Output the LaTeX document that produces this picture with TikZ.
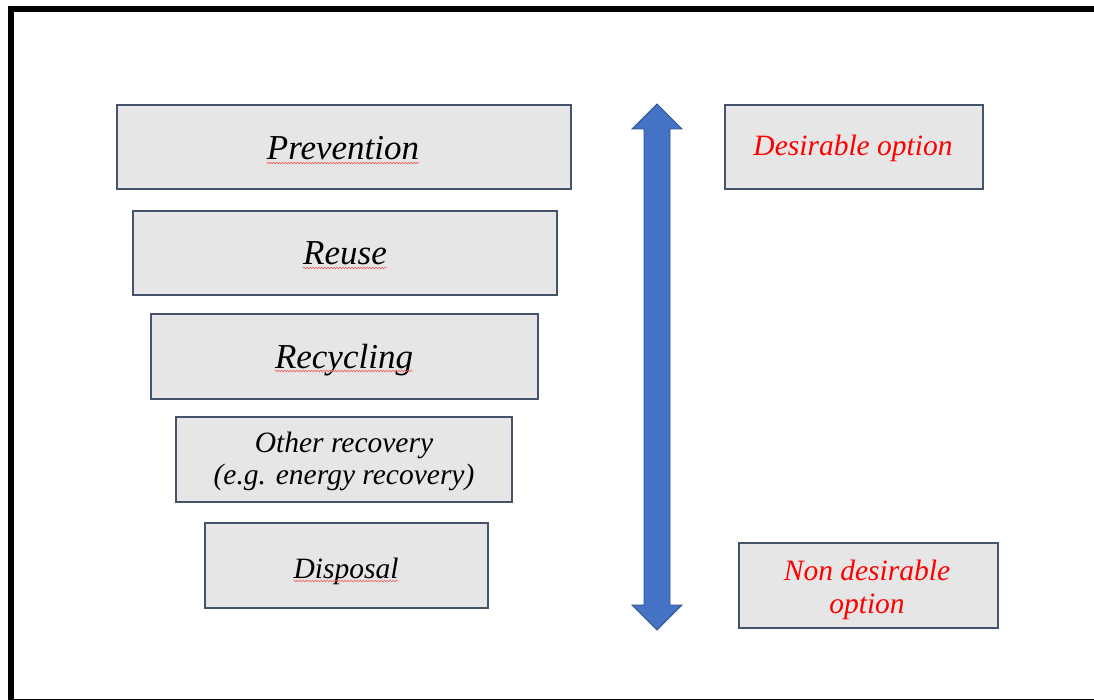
\documentclass[tikz,border=0pt]{standalone}
\usepackage{fontspec}
\setmainfont{Liberation Serif}
\usetikzlibrary{decorations.pathmorphing}
\definecolor{boxfill}{RGB}{230,230,230}
\definecolor{boxline}{RGB}{68,84,106}
\definecolor{arrfill}{RGB}{68,114,196}
\definecolor{arrline}{RGB}{47,82,143}
\definecolor{wavered}{RGB}{240,80,80}
\newlength\wdDes
\newcommand\bigtxt{\fontsize{35}{40}\selectfont\itshape}
\newcommand\smltxt{\fontsize{29.5}{31}\selectfont\itshape}
\begin{document}
\begin{tikzpicture}[x=1pt,y=-1pt,
  lvl/.style={draw=boxline,fill=boxfill,line width=1.2pt,rectangle,inner sep=0pt},
  big/.style={inner sep=0pt,anchor=base,font=\bigtxt,text=black},
  sml/.style={inner sep=0pt,anchor=base,font=\smltxt,text=black},
  redt/.style={inner sep=0pt,anchor=base,font=\smltxt,text=red},
  wavy/.style={draw=wavered,line width=0.5pt,decorate,decoration={snake,amplitude=0.9pt,segment length=3pt}}]
\useasboundingbox (0,0) rectangle (1094,700);
% frame
\fill[black] (8,6) rectangle (1094,12);
\fill[black] (8,6) rectangle (14,700);
\fill[black] (8,698.5) rectangle (1094,699.7);
% hierarchy boxes
\node[lvl,minimum width=454,minimum height=84] (prev) at (344,147) {};
\node[lvl,minimum width=424,minimum height=84] (reuse) at (345,253) {};
\node[lvl,minimum width=387,minimum height=85] (recyc) at (344.5,356.5) {};
\node[lvl,minimum width=336,minimum height=85] (other) at (344,459.5) {};
\node[lvl,minimum width=283,minimum height=85] (disp) at (346.5,565.5) {};
\node[lvl,minimum width=258,minimum height=84] (des) at (854,147) {};
\node[lvl,minimum width=259,minimum height=85] (ndes) at (868.5,585.5) {};
% texts
\node[big] (prevt) at (343,160) {Prevention};
\node[big] (reuset) at (345,265) {Reuse};
\node[big] (recyct) at (344,368) {Recycling};
\node[sml] (othert1) at (344,452) {Other recovery};
\node[sml] (othert2) at (344,484) {(e.g. energy recovery)};
\node[sml] (dispt) at (346,578) {Disposal};
\node[redt] (dest) at (853,156) {Desirable option};
\node[redt] (ndest1) at (867,580) {Non desirable};
\node[redt] (ndest2) at (867,613) {option};
% spell-check underlines
\draw[wavy] ([yshift=-3pt]prevt.base west) -- ([yshift=-3pt]prevt.base east);
\draw[wavy] ([yshift=-3pt]reuset.base west) -- ([yshift=-3pt]reuset.base east);
\draw[wavy] ([yshift=-3pt]recyct.base west) -- ([yshift=-3pt]recyct.base east);
\draw[wavy] ([yshift=-3pt]dispt.base west) -- ([yshift=-3pt]dispt.base east);
\settowidth\wdDes{\smltxt Desirable}
\draw[wavy] ([yshift=-3pt]dest.base west) -- ([yshift=-3pt,xshift=\wdDes]dest.base west);
\settowidth\wdDes{\smltxt desirable}
\draw[wavy] ([yshift=-3pt,xshift=-\wdDes]ndest1.base east) -- ([yshift=-3pt]ndest1.base east);
% double arrow
\draw[fill=arrfill,draw=arrline,line width=0.8pt,line join=miter]
  (657,104) -- (682,129) -- (670,129) -- (670,605) -- (682,605) -- (657,630)
  -- (632,605) -- (644,605) -- (644,129) -- (632,129) -- cycle;
\end{tikzpicture}
\end{document}
